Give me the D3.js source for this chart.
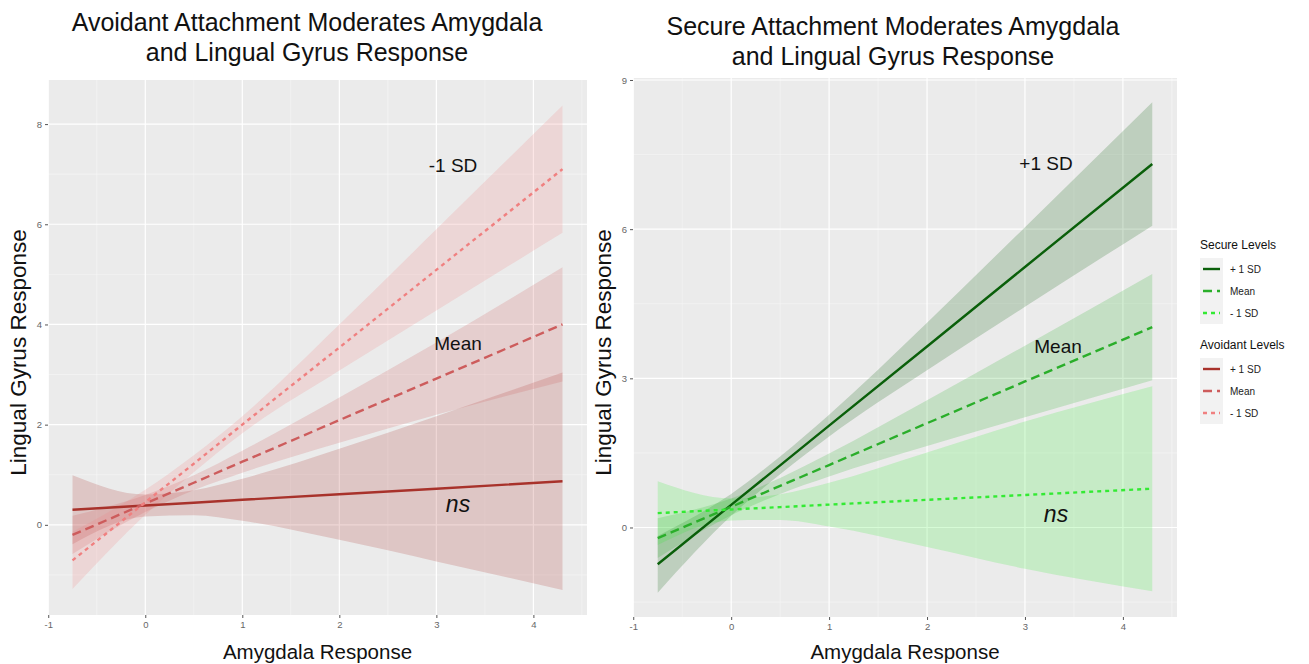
<!DOCTYPE html>
<html>
<head>
<meta charset="utf-8">
<style>
  body { margin: 0; background: #fff; }
  text { font-family: "Liberation Sans", Arial, sans-serif; }
</style>
</head>
<body>
<script src="https://cdn.jsdelivr.net/npm/d3@7/dist/d3.min.js"></script>
<script>

  const width = 1309,
        height = 664

  const xs = [-0.75, 0, 0.5, 1, 2, 3, 4.3]
  const xTicks = [-1, 0, 1, 2, 3, 4]
  const levelNames = ['+ 1 SD', 'Mean', '- 1 SD']

  // avoidant panel
  const avoidHiFit = [0.30, 0.385, 0.44, 0.50, 0.61, 0.72, 0.87]
  const avoidHiLow = [-0.39, 0.165, 0.19, 0.08, -0.30, -0.73, -1.30]
  const avoidHiUp  = [0.99, 0.605, 0.69, 0.92, 1.52, 2.17, 3.04]
  const avoidMeanFit = [-0.20, 0.424, 0.84, 1.26, 2.09, 2.92, 4.00]
  const avoidMeanLow = [-0.58, 0.254, 0.69, 1.04, 1.64, 2.20, 2.86]
  const avoidMeanUp  = [0.18, 0.594, 0.99, 1.48, 2.54, 3.64, 5.14]
  const avoidLoFit = [-0.71, 0.45, 1.22, 2.00, 3.54, 5.09, 7.10]
  const avoidLoLow = [-1.28, 0.20, 1.05, 1.83, 3.08, 4.28, 5.83]
  const avoidLoUp  = [-0.14, 0.70, 1.39, 2.17, 4.00, 5.90, 8.37]
  const avoidYTicks = [0, 2, 4, 6, 8]
  const avoidYMinor = [-1, 1, 3, 5, 7]

  // secure panel
  const secureHiFit = [-0.74, 0.456, 1.25, 2.05, 3.64, 5.24, 7.31]
  const secureHiLow = [-1.31, 0.236, 1.07, 1.83, 3.16, 4.44, 6.07]
  const secureHiUp  = [-0.17, 0.676, 1.43, 2.27, 4.12, 6.04, 8.55]
  const secureMeanFit = [-0.215, 0.415, 0.836, 1.256, 2.097, 2.937, 4.03]
  const secureMeanLow = [-0.615, 0.245, 0.676, 1.026, 1.637, 2.217, 2.96]
  const secureMeanUp  = [0.185, 0.585, 0.996, 1.486, 2.557, 3.657, 5.10]
  const secureLoFit = [0.29, 0.363, 0.41, 0.46, 0.557, 0.654, 0.78]
  const secureLoLow = [-0.35, 0.143, 0.15, 0.02, -0.39, -0.83, -1.28]
  const secureLoUp  = [0.93, 0.583, 0.67, 0.90, 1.51, 2.13, 2.84]
  const secureYTicks = [0, 3, 6, 9]
  const secureYMinor = [-1.5, 1.5, 4.5, 7.5]

  const redColors = ['#a8322b', '#cd5c5c', '#f08080']
  const greenColors = ['#0a5f0a', '#2aae2a', '#33ea33']
  const dashes = [null, '9,5', '4,4']

  const makeSeries = (fits, lows, ups, colors) =>
    fits.map((f, k) => ({
      key: levelNames[k],
      color: colors[k],
      dash: dashes[k],
      points: xs.map((x, i) => ({x: x, fit: f[i], low: lows[k][i], up: ups[k][i]}))
    }))

  const avoidSeries = makeSeries(
    [avoidHiFit, avoidMeanFit, avoidLoFit],
    [avoidHiLow, avoidMeanLow, avoidLoLow],
    [avoidHiUp, avoidMeanUp, avoidLoUp], redColors)

  const secureSeries = makeSeries(
    [secureHiFit, secureMeanFit, secureLoFit],
    [secureHiLow, secureMeanLow, secureLoLow],
    [secureHiUp, secureMeanUp, secureLoUp], greenColors)

  const svg = d3.select("body")
    .append("svg")
      .attr("width", width)
      .attr("height", height)

  function drawPanel(p) {
    const xScale = d3.scaleLinear()
      .domain([-1.0025, 4.5525])
      .range([p.left, p.right])

    const yScale = d3.scaleLinear()
      .domain(p.yDomain)
      .range([p.bottom, p.top])

    const g = svg.append("g")

    g.append("rect")
      .attr("x", p.left)
      .attr("y", p.top)
      .attr("width", p.right - p.left)
      .attr("height", p.bottom - p.top)
      .attr("fill", "#ebebeb")

    // minor grid
    g.selectAll(".xMinor")
      .data([-0.5, 0.5, 1.5, 2.5, 3.5, 4.5])
      .enter().append("line")
      .attr("x1", d => xScale(d)).attr("x2", d => xScale(d))
      .attr("y1", p.top).attr("y2", p.bottom)
      .attr("stroke", "#f7f7f7").attr("stroke-width", 0.6)
    g.selectAll(".yMinor")
      .data(p.yMinor)
      .enter().append("line")
      .attr("y1", d => yScale(d)).attr("y2", d => yScale(d))
      .attr("x1", p.left).attr("x2", p.right)
      .attr("stroke", "#f7f7f7").attr("stroke-width", 0.6)

    // major grid
    g.selectAll(".xMajor")
      .data(xTicks)
      .enter().append("line")
      .attr("x1", d => xScale(d)).attr("x2", d => xScale(d))
      .attr("y1", p.top).attr("y2", p.bottom)
      .attr("stroke", "#fff").attr("stroke-width", 1.2)
    g.selectAll(".yMajor")
      .data(p.yTicks)
      .enter().append("line")
      .attr("y1", d => yScale(d)).attr("y2", d => yScale(d))
      .attr("x1", p.left).attr("x2", p.right)
      .attr("stroke", "#fff").attr("stroke-width", 1.2)

    // axes
    const fmt = d => String(d)
    const xAxis = d3.axisBottom(xScale).tickValues(xTicks).tickFormat(fmt).tickSize(3).tickPadding(3)
    const yAxis = d3.axisLeft(yScale).tickValues(p.yTicks).tickFormat(fmt).tickSize(3).tickPadding(3)

    const gx = g.append("g")
      .attr("transform", `translate(0, ${p.bottom})`)
      .call(xAxis)
    const gy = g.append("g")
      .attr("transform", `translate(${p.left}, 0)`)
      .call(yAxis)
    ;[gx, gy].forEach(ax => {
      ax.select(".domain").remove()
      ax.selectAll(".tick line").attr("stroke", "#555")
      ax.selectAll(".tick text")
        .attr("fill", "#666")
        .style("font-size", "9.5px")
        .style("font-family", '"Liberation Sans", Arial, sans-serif')
    })

    const area = d3.area()
      .x(d => xScale(d.x))
      .y0(d => yScale(d.low))
      .y1(d => yScale(d.up))
      .curve(d3.curveMonotoneX)

    const line = d3.line()
      .x(d => xScale(d.x))
      .y(d => yScale(d.fit))

    g.selectAll(".band")
      .data(p.series)
      .enter().append("path")
      .attr("d", d => area(d.points))
      .attr("fill", d => d.color)
      .attr("fill-opacity", 0.2)

    g.selectAll(".fit")
      .data(p.series)
      .enter().append("path")
      .attr("d", d => line(d.points))
      .attr("fill", "none")
      .attr("stroke", d => d.color)
      .attr("stroke-width", 2.4)
      .attr("stroke-dasharray", d => d.dash)

    // titles
    g.selectAll(".title")
      .data(p.title)
      .enter().append("text")
      .attr("x", p.titleX)
      .attr("y", (d, i) => p.titleY + i * 30)
      .attr("text-anchor", "middle")
      .style("font-size", "25px")
      .attr("fill", "#111")
      .text(d => d)

    g.append("text")
      .attr("x", (p.left + p.right) / 2)
      .attr("y", 659)
      .attr("text-anchor", "middle")
      .style("font-size", "20.5px")
      .attr("fill", "#111")
      .text("Amygdala Response")

    g.append("text")
      .attr("transform", `translate(${p.yTitleX}, ${(p.top + p.bottom) / 2 + 5}) rotate(-90)`)
      .attr("text-anchor", "middle")
      .style("font-size", "22.5px")
      .attr("fill", "#111")
      .text("Lingual Gyrus Response")

    g.selectAll(".note")
      .data(p.notes)
      .enter().append("text")
      .attr("x", d => d.x)
      .attr("y", d => d.y)
      .attr("text-anchor", "middle")
      .style("font-size", d => d.italic ? "23px" : "19px")
      .style("font-style", d => d.italic ? "italic" : "normal")
      .attr("fill", "#111")
      .text(d => d.text)
  }

  drawPanel({
    left: 48, right: 587, top: 80, bottom: 615,
    yDomain: [-1.80, 8.88],
    yTicks: avoidYTicks, yMinor: avoidYMinor,
    series: avoidSeries,
    title: ["Avoidant Attachment Moderates Amygdala", "and Lingual Gyrus Response"],
    titleX: 307, titleY: 31,
    yTitleX: 26,
    notes: [
      {text: "-1 SD", x: 453, y: 172},
      {text: "Mean", x: 458, y: 350},
      {text: "ns", x: 458, y: 512, italic: true}
    ]
  })

  drawPanel({
    left: 633, right: 1177, top: 78, bottom: 617,
    yDomain: [-1.80, 9.04],
    yTicks: secureYTicks, yMinor: secureYMinor,
    series: secureSeries,
    title: ["Secure Attachment Moderates Amygdala", "and Lingual Gyrus Response"],
    titleX: 893, titleY: 35,
    yTitleX: 611,
    notes: [
      {text: "+1 SD", x: 1046, y: 170},
      {text: "Mean", x: 1058, y: 353},
      {text: "ns", x: 1056, y: 522, italic: true}
    ]
  })

  // legends
  const legends = [
    {title: "Secure Levels", y: 245, colors: greenColors},
    {title: "Avoidant Levels", y: 345, colors: redColors}
  ]

  legends.forEach(lg => {
    const gl = svg.append("g").attr("transform", `translate(1200, ${lg.y})`)
    gl.append("text")
      .attr("x", 0).attr("y", 4)
      .style("font-size", "12px")
      .attr("fill", "#111")
      .text(lg.title)
    gl.append("rect")
      .attr("x", 0).attr("y", 13)
      .attr("width", 23).attr("height", 66)
      .attr("fill", "#f2f2f2")
    levelNames.forEach((name, i) => {
      const cy = 24 + i * 22
      gl.append("line")
        .attr("x1", 3).attr("x2", 20)
        .attr("y1", cy).attr("y2", cy)
        .attr("stroke", lg.colors[i])
        .attr("stroke-width", 2.4)
        .attr("stroke-dasharray", dashes[i])
      gl.append("text")
        .attr("x", 30).attr("y", cy + 3.5)
        .style("font-size", "10px")
        .attr("fill", "#222")
        .text(name)
    })
  })

</script>
</body>
</html>
